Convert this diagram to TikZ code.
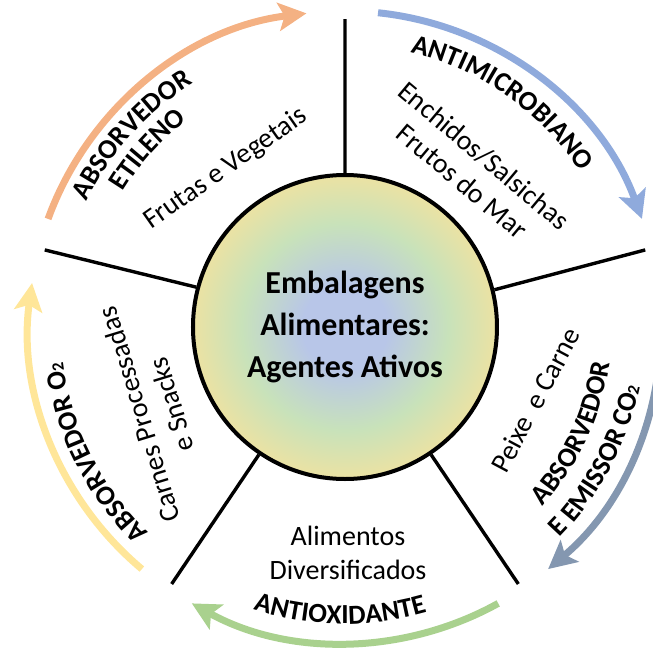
\documentclass[tikz,border=0pt]{standalone}
\usepackage{fontspec}
\setmainfont{Carlito}
\usetikzlibrary{arrows.meta,decorations.text}

\definecolor{arcorange}{HTML}{F4B183}
\definecolor{arcblue}{HTML}{8FAADC}
\definecolor{arcslate}{HTML}{8497B0}
\definecolor{arcgreen}{HTML}{A9D18E}
\definecolor{arcyellow}{HTML}{FFE699}
\definecolor{hubblue}{RGB}{184,198,232}
\definecolor{hubgreen}{RGB}{200,226,186}
\definecolor{hubyellow}{RGB}{240,226,160}

\pgfdeclareradialshading{hubshade}{\pgfpoint{0bp}{0bp}}{%
  color(0bp)=(hubblue); color(7bp)=(hubblue); color(17bp)=(hubgreen);
  color(26bp)=(hubyellow); color(50bp)=(hubyellow)}

\newcommand\lblfont{\bfseries\fontsize{13.8}{16}\selectfont}
\newcommand\subtwofont{\bfseries\fontsize{8.5}{9}\selectfont}

\tikzset{
  spoke/.style={line width=1.7pt},
  cycle arrow/.style={line width=3.5pt,
    -{Stealth[length=14pt,width=14pt,inset=3pt]}},
  sector text/.style={font=\fontsize{14}{17}\selectfont, align=center},
  arc label/.style={decorate,
    decoration={text along path, text align=center, text={#1}}}
}

\begin{document}
\begin{tikzpicture}[x=1pt, y=1pt]
  \useasboundingbox (-172.5,-164) rectangle (154,163.5);
  \clip (-172.5,-164) rectangle (154,163.5);

  % centre
  \node (hub)
    [
      circle, draw, line width=2pt,
      minimum size=152pt, inner sep=0pt,
      shade, shading=hubshade,
      align=center, font=\bfseries\fontsize{16}{21}\selectfont
    ]
    at (0,0) {Embalagens\\Alimentares:\\Agentes Ativos};

  % spokes
  \coordinate (rim-1) at (90:154);
  \coordinate (rim-2) at (14.4:155);
  \coordinate (rim-3) at (-56:155);
  \coordinate (rim-4) at (-124:155);
  \coordinate (rim-5) at (165.6:155);
  \draw [spoke]
    (hub.90) -- (rim-1)
    (hub.14.4) -- (rim-2)
    (hub.-56) -- (rim-3)
    (hub.-124) -- (rim-4)
    (hub.165.6) -- (rim-5);

  % coloured arrows
  \draw [cycle arrow, arcorange] (160:158) arc [start angle=160, end angle=97, radius=158];
  \draw [cycle arrow, arcblue] (84:158) arc [start angle=84, end angle=20, radius=158];
  \draw [cycle arrow, arcslate] (9:158) arc [start angle=9, end angle=-50, radius=158];
  \draw [cycle arrow, arcgreen] (-61:158) arc [start angle=-61, end angle=-119, radius=158];
  \draw [cycle arrow, arcyellow] (230:158) arc [start angle=230, end angle=172, radius=158];

  % food groups
  \node (fruit) [sector text, rotate=35] at (127:99) {Frutas e Vegetais};
  \node (sausage) [sector text, rotate=-40] at (51:102) {Enchidos/Salsichas\\Frutos do Mar};
  \node (fish) [sector text, rotate=62] at (-21:102) {Peixe\ \ e Carne};
  \node (mixed) [sector text] at (1.5,-113) {Alimentos\\Diversificados};
  \node (snack) [sector text, rotate=107] at (203.6:103.5) {Carnes Processadas\\e Snacks};

  % agents
  \path [arc label={|\lblfont|ABSORVEDOR}]
    (178:143.5) arc [start angle=178, end angle=98, radius=143.5];
  \path [arc label={|\lblfont|ETILENO}]
    (178:130) arc [start angle=178, end angle=98, radius=130];
  \path [arc label={|\lblfont|ANTIMICROBIANO}]
    (95:141) arc [start angle=95, end angle=15, radius=141];
  \path [arc label={|\lblfont|ABSORVEDOR}]
    (-65:133.5) arc [start angle=-65, end angle=15, radius=133.5];
  \path [arc label={|\lblfont|E EMISSOR CO|\subtwofont|2}]
    (-68:150.5) arc [start angle=-68, end angle=12, radius=150.5];
  \path [arc label={|\lblfont|ANTIOXIDANTE}]
    (-131:148.5) arc [start angle=-131, end angle=-51, radius=148.5];
  \path [arc label={|\lblfont|ABSORVEDOR O|\subtwofont|2}]
    (246.6:142) arc [start angle=246.6, end angle=166.6, radius=142];
\end{tikzpicture}
\end{document}
